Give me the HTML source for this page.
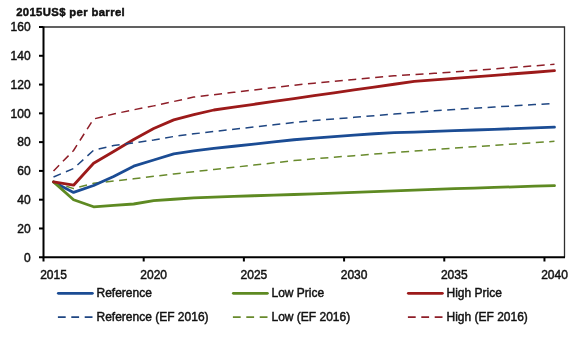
<!DOCTYPE html>
<html><head><meta charset="utf-8"><style>
html,body{margin:0;padding:0;background:#fff;}
body{width:580px;height:341px;overflow:hidden;position:relative;}
svg{position:absolute;left:0;top:0;}
text{font-family:"Liberation Sans",sans-serif;font-size:12px;fill:#111;stroke:#111;stroke-width:0.45px;}
svg{will-change:transform;}
.t{font-weight:bold;font-size:11.3px;letter-spacing:0.36px;}
</style></head><body>
<svg width="580" height="341" viewBox="0 0 580 341">
<text class="t" x="16.2" y="16.1">2015US$ per barrel</text>
<text x="30.6" y="261.55" text-anchor="end">0</text>
<text x="30.6" y="232.77" text-anchor="end">20</text>
<text x="30.6" y="203.99" text-anchor="end">40</text>
<text x="30.6" y="175.21" text-anchor="end">60</text>
<text x="30.6" y="146.43" text-anchor="end">80</text>
<text x="30.6" y="117.64" text-anchor="end">100</text>
<text x="30.6" y="88.86" text-anchor="end">120</text>
<text x="30.6" y="60.08" text-anchor="end">140</text>
<text x="30.6" y="31.30" text-anchor="end">160</text>
<text x="53.52" y="278.6" text-anchor="middle">2015</text>
<text x="153.71" y="278.6" text-anchor="middle">2020</text>
<text x="253.90" y="278.6" text-anchor="middle">2025</text>
<text x="354.10" y="278.6" text-anchor="middle">2030</text>
<text x="454.29" y="278.6" text-anchor="middle">2035</text>
<text x="554.48" y="278.6" text-anchor="middle">2040</text>
<path d="M43.5 27.0 H564.5 V257.25" fill="none" stroke="#2e2e2e" stroke-width="1.3"/>
<line x1="39" y1="257.25" x2="43.5" y2="257.25" stroke="#000" stroke-width="2"/>
<line x1="39" y1="228.47" x2="43.5" y2="228.47" stroke="#000" stroke-width="2"/>
<line x1="39" y1="199.69" x2="43.5" y2="199.69" stroke="#000" stroke-width="2"/>
<line x1="39" y1="170.91" x2="43.5" y2="170.91" stroke="#000" stroke-width="2"/>
<line x1="39" y1="142.12" x2="43.5" y2="142.12" stroke="#000" stroke-width="2"/>
<line x1="39" y1="113.34" x2="43.5" y2="113.34" stroke="#000" stroke-width="2"/>
<line x1="39" y1="84.56" x2="43.5" y2="84.56" stroke="#000" stroke-width="2"/>
<line x1="39" y1="55.78" x2="43.5" y2="55.78" stroke="#000" stroke-width="2"/>
<line x1="39" y1="27.00" x2="43.5" y2="27.00" stroke="#000" stroke-width="2"/>
<line x1="43.50" y1="257.25" x2="43.50" y2="261.5" stroke="#000" stroke-width="2"/>
<line x1="143.69" y1="257.25" x2="143.69" y2="261.5" stroke="#000" stroke-width="2"/>
<line x1="243.88" y1="257.25" x2="243.88" y2="261.5" stroke="#000" stroke-width="2"/>
<line x1="344.08" y1="257.25" x2="344.08" y2="261.5" stroke="#000" stroke-width="2"/>
<line x1="444.27" y1="257.25" x2="444.27" y2="261.5" stroke="#000" stroke-width="2"/>
<line x1="544.46" y1="257.25" x2="544.46" y2="261.5" stroke="#000" stroke-width="2"/>
<path d="M43.5 26.5 V257.25 H565.0" fill="none" stroke="#000" stroke-width="2"/>
<polyline points="53.52,182.00 73.56,188.60 93.60,183.30 113.63,181.04 133.67,178.79 153.71,176.31 173.75,173.96 193.79,171.74 213.83,169.51 233.87,167.29 253.90,165.06 273.94,162.84 293.98,160.61 314.02,158.73 334.06,157.20 354.10,155.66 374.13,154.13 394.17,152.60 414.21,151.06 434.25,149.53 454.29,148.03 474.33,146.68 494.37,145.34 514.40,143.99 534.44,142.65 554.48,141.30" fill="none" stroke="#688a2c" stroke-width="1.5" stroke-dasharray="8 5.5" stroke-linejoin="round"/>
<polyline points="53.52,181.90 73.56,192.40 93.60,185.50 113.63,176.50 133.67,166.20 153.71,160.00 173.75,153.90 193.79,150.85 213.83,148.41 233.87,146.24 253.90,144.08 273.94,141.91 293.98,139.75 314.02,138.08 334.06,136.63 354.10,135.18 374.13,133.73 394.17,132.68 414.21,132.03 434.25,131.39 454.29,130.70 474.33,130.00 494.37,129.30 514.40,128.60 534.44,127.90 554.48,127.20" fill="none" stroke="#1b4c94" stroke-width="2.8" stroke-linejoin="round" stroke-linecap="round"/>
<polyline points="53.52,181.90 73.56,199.70 93.60,206.80 113.63,205.40 133.67,204.00 153.71,200.70 173.75,199.24 193.79,197.89 213.83,197.15 233.87,196.41 253.90,195.73 273.94,195.12 293.98,194.51 314.02,193.83 334.06,193.09 354.10,192.35 374.13,191.61 394.17,190.87 414.21,190.13 434.25,189.39 454.29,188.68 474.33,188.06 494.37,187.45 514.40,186.83 534.44,186.22 554.48,185.60" fill="none" stroke="#5e8a22" stroke-width="2.8" stroke-linejoin="round" stroke-linecap="round"/>
<polyline points="53.52,181.90 73.56,185.20 93.60,163.30 113.63,151.50 133.67,139.50 153.71,128.50 173.75,119.90 193.79,114.70 213.83,110.00 233.87,107.14 253.90,104.28 273.94,101.42 293.98,98.56 314.02,95.70 334.06,92.84 354.10,89.98 374.13,87.12 394.17,84.26 414.21,81.40 434.25,79.87 454.29,78.34 474.33,76.81 494.37,75.29 514.40,73.76 534.44,72.23 554.48,70.70" fill="none" stroke="#9c1a1a" stroke-width="2.8" stroke-linejoin="round" stroke-linecap="round"/>
<polyline points="53.52,177.00 73.56,168.50 93.60,150.30 113.63,145.53 133.67,142.81 153.71,140.08 173.75,136.49 193.79,133.83 213.83,131.46 233.87,129.22 253.90,126.99 273.94,124.75 293.98,122.52 314.02,120.59 334.06,118.97 354.10,117.35 374.13,115.73 394.17,114.11 414.21,112.49 434.25,110.87 454.29,109.47 474.33,108.23 494.37,107.02 514.40,105.82 534.44,104.61 554.48,103.40" fill="none" stroke="#1f4682" stroke-width="1.5" stroke-dasharray="8 5.5" stroke-linejoin="round"/>
<polyline points="53.52,171.00 73.56,150.50 93.60,119.00 113.63,114.00 133.67,109.80 153.71,105.87 173.75,101.48 193.79,97.10 213.83,94.72 233.87,92.35 253.90,89.97 273.94,87.59 293.98,85.21 314.02,83.20 334.06,81.35 354.10,79.49 374.13,77.64 394.17,75.79 414.21,74.53 434.25,73.34 454.29,71.92 474.33,70.39 494.37,68.87 514.40,67.35 534.44,65.82 554.48,64.30" fill="none" stroke="#8e1e28" stroke-width="1.5" stroke-dasharray="8 5.5" stroke-linejoin="round"/>
<line x1="58.3" y1="293.3" x2="92.4" y2="293.3" stroke="#1b4c94" stroke-width="2.7" stroke-linecap="round"/>
<text x="96.5" y="296.8">Reference</text>
<line x1="233.3" y1="293.3" x2="267.4" y2="293.3" stroke="#5e8a22" stroke-width="2.7" stroke-linecap="round"/>
<text x="271.5" y="296.8">Low Price</text>
<line x1="408.3" y1="293.3" x2="442.4" y2="293.3" stroke="#9c1a1a" stroke-width="2.7" stroke-linecap="round"/>
<text x="446.5" y="296.8">High Price</text>
<line x1="57.9" y1="317.1" x2="94" y2="317.1" stroke="#1f4682" stroke-width="1.6" stroke-dasharray="7.8 5.6"/>
<text x="96.5" y="320.8">Reference (EF 2016)</text>
<line x1="232.9" y1="317.1" x2="269" y2="317.1" stroke="#688a2c" stroke-width="1.6" stroke-dasharray="7.8 5.6"/>
<text x="271.5" y="320.8">Low (EF 2016)</text>
<line x1="407.9" y1="317.1" x2="444" y2="317.1" stroke="#8e1e28" stroke-width="1.6" stroke-dasharray="7.8 5.6"/>
<text x="446.5" y="320.8">High (EF 2016)</text>
</svg>
</body></html>
